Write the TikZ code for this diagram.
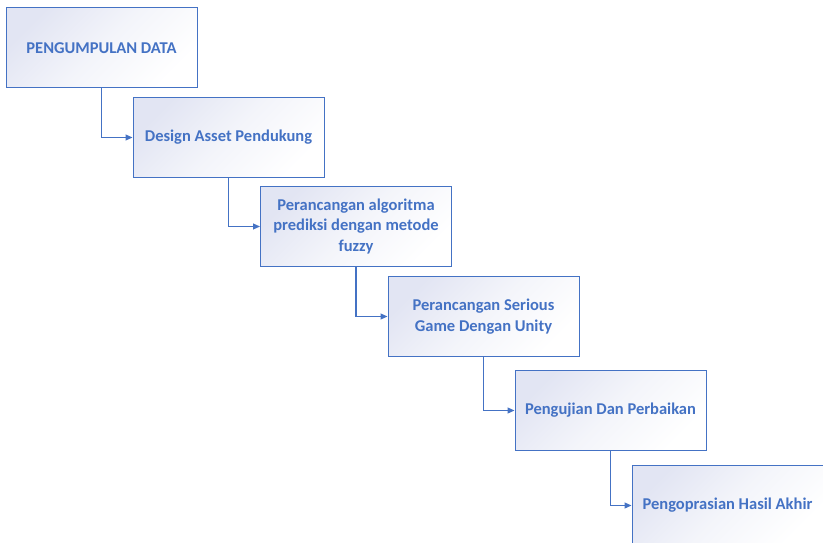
\documentclass[tikz,border=0pt]{standalone}
\usepackage{fontspec}
\setmainfont{Carlito}
\usetikzlibrary{arrows.meta}
\definecolor{azul}{HTML}{4472C4}
\definecolor{lavanda}{HTML}{E2E5F3}
\tikzset{
  etapa/.style={draw=azul, line width=1pt, minimum width=191pt, minimum height=80pt,
    top color=lavanda, bottom color=white, middle color=white!60!lavanda, shading angle=45,
    text=azul, font=\fontsize{16.5}{20.5}\selectfont\bfseries, align=center, inner sep=0pt},
  seta/.style={draw=azul, line width=1.1pt, -{Triangle[length=7pt,width=6pt]}}
}
\begin{document}
\begin{tikzpicture}[x=1pt, y=1pt]
\useasboundingbox (0,0) rectangle (823,-543);
\begin{scope}
  % etapas
  \node[etapa] (data)  at (101.5,-48)   {PENGUMPULAN DATA};
  \node[etapa] (aset)  at (228.5,-137.5) {Design Asset Pendukung};
  \node[etapa] (algo)  at (356,-226.5)  {Perancangan algoritma\\prediksi dengan metode\\fuzzy};
  \node[etapa] (game)  at (483.5,-316.5) {Perancangan Serious\\Game Dengan Unity};
  \node[etapa] (uji)   at (610.5,-410.5) {Pengujian Dan Perbaikan};
  \node[etapa] (hasil) at (727.5,-505.5) {Pengoprasian Hasil Akhir};

  % ligacoes
  \foreach \a/\b in {data/aset, aset/algo, algo/game, game/uji, uji/hasil}
    \draw[seta] (\a.south) |- (\b.west);
\end{scope}
\end{tikzpicture}
\end{document}
